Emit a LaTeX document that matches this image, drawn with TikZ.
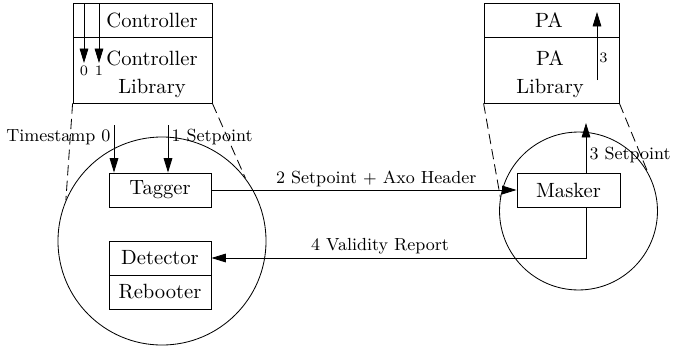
\documentclass[tikz,border=0pt]{standalone}
\usetikzlibrary{arrows.meta,positioning,calc}

\begin{document}
\begin{tikzpicture}[x=0.485pt, y=-0.485pt,
  box/.style={draw, rectangle, inner sep=0pt},
  zone/.style={draw, circle, inner sep=0pt},
  flow/.style={-{Triangle[length=7pt,width=4.2pt]}},
  zoomline/.style={dash pattern=on 5pt off 2.5pt},
  lbl/.style={font=\fontsize{8.5}{10}\selectfont, inner sep=1.5pt},
  tick/.style={font=\scriptsize, inner sep=1pt}]
  \useasboundingbox (0,0) rectangle (674,354);

  %% Controller stack
  \node[box, minimum width=67.4pt, minimum height=16.5pt] (ctrl)    at (142.5,20) {};
  \node[box, minimum width=67.4pt, minimum height=32pt]   (ctrllib) at (142.5,70) {};
  \node (ctrltxt)    at (152,20) {Controller};
  \node[align=center] (ctrllibtxt) at (152,74) {Controller\\[1.5pt]Library};
  \coordinate (c0top) at (84,3);  \coordinate (c0end) at (84,63);
  \coordinate (c1top) at (99,3);  \coordinate (c1end) at (99,63);
  \draw[flow] (c0top) -- (c0end) node[below, tick] (c0lbl) {0};
  \draw[flow] (c1top) -- (c1end) node[below, tick] (c1lbl) {1};

  %% PA stack
  \node[box, minimum width=65.5pt, minimum height=16.5pt] (pa)    at (551.5,20) {};
  \node[box, minimum width=65.5pt, minimum height=32pt]   (palib) at (551.5,70) {};
  \node (patxt)    at (549,20) {PA};
  \node[align=center] (palibtxt) at (550,74) {PA\\[1.5pt]Library};
  \coordinate (p3start) at (597,80); \coordinate (p3end) at (597,12);
  \draw[flow] (p3start) -- (p3end) node[pos=0.33, right, tick] (p3lbl) {3};

  %% Host side
  \node[zone, minimum size=100.9pt] (hostzone) at (162,241) {};
  \node[box, minimum width=49.5pt, minimum height=16.5pt] (tagger)   at (160,190) {Tagger};
  \node[box, minimum width=49.5pt, minimum height=16.5pt] (detector) at (160,258) {Detector};
  \node[box, minimum width=49.5pt, minimum height=16.5pt] (rebooter) at (160,292) {Rebooter};

  %% PA side
  \node[zone, minimum size=76.6pt] (pazone) at (578.5,211) {};
  \node[box, minimum width=50pt, minimum height=16.5pt] (masker) at (568.5,190) {Masker};

  %% Zoom lines
  \draw[zoomline] (ctrllib.south west) -- (hostzone.157);
  \draw[zoomline] (ctrllib.south east) -- (hostzone.37);
  \draw[zoomline] (palib.south west) -- (pazone.170);
  \draw[zoomline] (palib.south east) -- (pazone.29);

  %% Flows
  \coordinate (tsin) at (114,125);
  \coordinate (spin) at (168,125);
  \draw[flow] (tsin) -- (tsin |- tagger.north) node[pos=0.25, left, lbl] {Timestamp 0};
  \draw[flow] (spin) -- (spin |- tagger.north) node[pos=0.25, right, lbl] {1 Setpoint};
  \draw[flow] (tagger.east) -- (masker.west) node[pos=0.54, above, lbl] {2 Setpoint $+$ Axo Header};
  \coordinate (maskout) at (586,123);
  \draw[flow] (masker.north -| maskout) -- (maskout) node[pos=0.36, right, lbl] {3 Setpoint};
  \coordinate (reportturn) at (586,258);
  \draw[flow] (masker.south -| reportturn) -- (reportturn) -- (detector.east)
    node[pos=0.55, above, lbl] {4 Validity Report};
\end{tikzpicture}
\end{document}
